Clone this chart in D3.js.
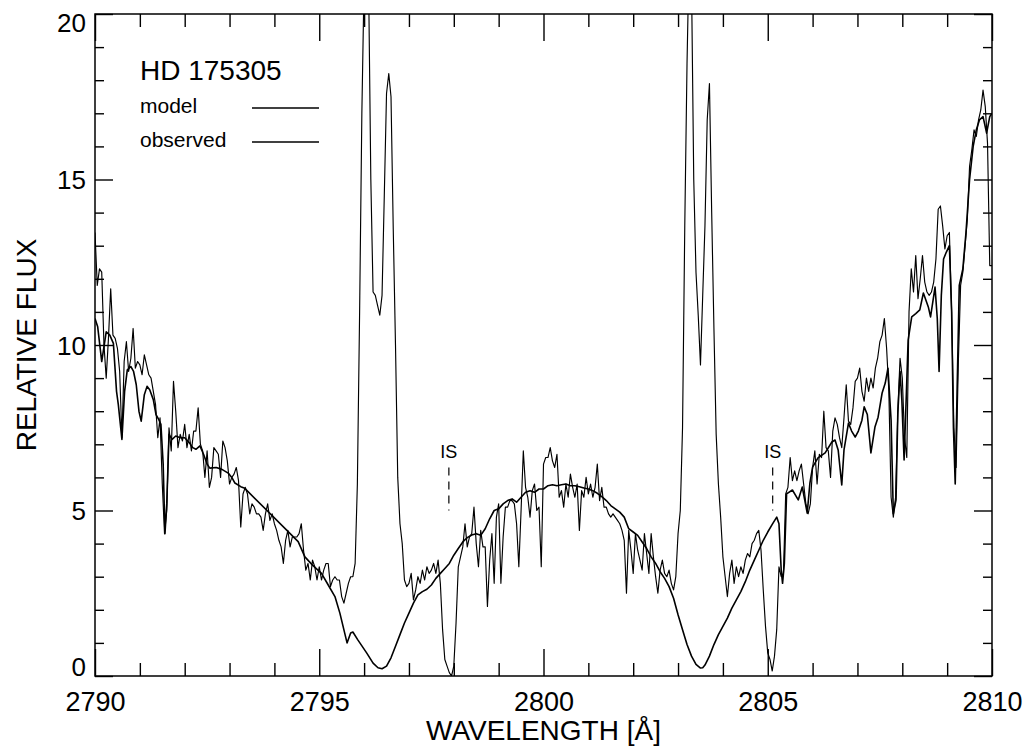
<!DOCTYPE html>
<html><head><meta charset="utf-8">
<script src="https://cdn.jsdelivr.net/npm/d3@7"></script>
<style>
body{margin:0;background:#fff}
svg{display:block}
text{font-family:"Liberation Sans",Arial,Helvetica,sans-serif;fill:#000}
</style>
</head><body>
<svg id="chart" width="1027" height="756"></svg>
<script>
// ---------------- data ----------------
const starName = "HD 175305";
const seriesNames = ["model", "observed"];
const xLabel = "WAVELENGTH [Å]";
const yLabel = "RELATIVE FLUX";
const xMajorTicks = [2790, 2795, 2800, 2805, 2810];
const yMajorTicks = [0, 5, 10, 15, 20];
const isLabel = "IS";
const isWave = [2797.89, 2805.11];
const isMarkTop = 6.3, isMarkBottom = 5.0, isLabelFlux = 6.6;

// observed spectrum, sampled every 0.05 Å from 2790.00 Å
const obsStart = 2790.0, obsStep = 0.05;
const obsFlux = [
  13.4,11.8,12.3,12.2,10.0,9.0,10.2,11.7,10.3,10.2,9.9,9.2,7.2,9.5,10.1,9.2,9.6,10.5,9.3,9.5,       // 2790
  9.4,9.1,9.7,9.4,9.1,9.0,8.6,8.2,7.2,7.8,5.8,4.3,5.0,7.5,6.8,8.9,8.0,6.9,7.3,7.1,                  // 2791
  7.6,6.9,7.3,6.8,7.4,7.4,8.1,7.0,6.8,6.0,6.8,5.7,6.0,6.9,6.8,6.7,6.0,7.1,6.9,6.5,                  // 2792
  5.8,6.0,6.1,6.3,5.9,4.5,5.5,5.7,5.5,4.9,5.2,5.1,4.9,4.9,4.8,4.4,4.9,5.2,4.7,4.9,                  // 2793
  4.6,4.4,4.1,3.9,3.4,4.1,4.4,3.9,4.2,4.2,4.2,4.3,4.6,3.8,3.2,3.4,2.9,3.5,3.3,2.9,                  // 2794
  3.3,2.9,3.2,3.4,3.4,2.7,2.9,3.0,2.9,2.9,2.4,2.2,2.5,2.8,3.0,3.0,3.4,5.8,11.0,17.0,                // 2795
  21.0,23.0,21.0,15.0,11.6,11.5,11.2,10.9,11.5,14.5,17.6,18.2,17.5,13.5,10.0,6.0,4.6,4.0,2.9,2.7,   // 2796
  2.8,3.1,2.3,2.6,3.0,2.8,3.2,2.9,3.3,3.1,3.2,3.4,3.1,3.5,2.8,1.4,0.5,0.3,0.1,0.0,                  // 2797
  0.3,1.6,3.3,3.6,3.9,4.6,3.9,4.2,4.3,5.1,4.0,3.3,4.4,3.9,3.9,2.1,3.5,4.3,2.8,4.8,                  // 2798
  5.2,2.8,4.2,5.1,5.1,5.3,5.3,5.2,4.6,3.3,5.0,6.8,5.7,5.4,4.8,5.6,5.8,5.0,5.1,3.3,                  // 2799
  6.4,6.6,6.6,6.9,6.5,6.3,6.7,5.4,5.6,5.1,5.8,5.4,6.1,5.7,5.4,5.8,4.4,5.6,5.4,6.0,                  // 2800
  5.5,5.8,5.4,5.7,6.4,5.3,5.7,5.1,5.1,4.9,4.8,4.9,4.8,4.7,4.6,4.4,4.1,2.5,4.4,3.8,                  // 2801
  3.1,4.3,3.8,3.5,3.2,4.3,3.7,3.1,4.3,3.6,3.0,2.5,3.2,3.5,3.1,3.0,3.2,2.8,2.6,3.0,                  // 2802
  4.3,5.0,7.5,13.6,18.5,22.0,21.0,15.0,12.2,10.9,9.4,11.5,13.6,16.8,17.9,14.0,10.5,7.3,5.8,4.8,     // 2803
  3.6,3.0,2.4,3.1,3.5,2.8,3.3,3.0,3.3,3.1,3.5,3.7,3.6,4.0,4.1,4.3,4.4,3.8,2.6,1.5,                  // 2804
  0.7,0.5,0.15,0.6,1.4,3.3,3.0,3.1,5.5,5.7,6.6,5.9,6.2,5.9,6.2,6.4,5.8,5.2,4.9,5.2,                 // 2805
  6.3,6.8,5.8,6.7,6.6,8.0,6.9,6.8,6.0,7.4,7.8,7.6,7.2,6.9,7.8,8.8,7.7,7.6,8.1,8.9,                  // 2806
  9.0,9.3,8.6,8.3,9.0,8.6,9.0,8.7,9.3,9.6,10.1,10.3,10.8,9.9,8.6,5.4,4.8,5.4,8.0,9.6,               // 2807
  9.0,7.2,6.6,11.0,12.3,11.6,12.7,11.4,12.0,12.7,11.9,11.6,11.5,11.6,11.9,12.6,14.1,14.2,13.6,12.9, // 2808
  13.3,13.4,11.0,7.5,6.3,9.5,11.8,12.2,13.0,13.8,15.4,15.9,16.5,16.3,16.8,17.1,17.7,17.2,16.1,12.4, // 2809
  12.4                                                                                              // 2810
];

// model spectrum (wavelength, flux)
const modelWave = [
  2790.00,2790.06,2790.15,2790.25,2790.33,2790.41,2790.48,2790.52,2790.60,2790.66,2790.72,2790.80,2790.86,2790.92,2790.98,
  2791.03,2791.10,2791.16,2791.22,2791.30,2791.36,2791.42,2791.47,2791.52,2791.56,2791.60,2791.65,2791.72,2791.80,2791.90,
  2792.00,2792.10,2792.18,2792.25,2792.34,2792.42,2792.50,2792.56,2792.70,2792.82,2792.97,2793.05,2793.12,2793.25,2793.34,
  2794.53,2794.68,2794.85,2795.05,2795.20,2795.35,2795.46,2795.62,2795.70,2795.75,2795.86,2796.06,2796.20,2796.31,2796.40,
  2796.50,2796.60,2796.70,2796.80,2796.90,2797.00,2797.10,2797.20,2797.30,2797.40,2797.50,2797.60,2797.70,2797.80,2797.90,
  2798.00,2798.10,2798.20,2798.30,2798.40,2798.50,2798.60,2798.70,2798.80,2798.90,2799.00,2799.10,2799.20,2799.30,2799.40,
  2799.50,2799.60,2799.70,2799.80,2799.90,2800.00,2800.10,2800.20,2800.30,2800.40,2800.50,2800.60,2800.70,2800.80,2800.90,
  2801.00,2801.10,2801.20,2801.30,2801.40,2801.50,2801.60,2801.70,2801.80,2801.90,2802.00,2802.10,2802.20,2802.30,2802.40,
  2802.50,2802.60,2802.70,2802.80,2802.90,2803.00,2803.10,2803.20,2803.30,2803.40,2803.50,2803.55,2803.60,2803.70,2803.80,
  2803.90,2804.00,2804.10,2804.20,2804.30,2804.40,2804.50,2804.60,2804.70,2804.80,2804.90,2805.00,2805.10,2805.20,2805.25,
  2805.30,2805.33,2805.37,2805.42,2805.55,2805.68,2805.77,2805.88,2805.94,2806.00,2806.12,2806.28,2806.43,2806.50,2806.57,
  2806.65,2806.70,2806.80,2806.87,2806.95,2807.02,2807.10,2807.15,2807.22,2807.30,2807.39,2807.46,2807.55,2807.62,2807.68,
  2807.75,2807.80,2807.86,2807.90,2807.95,2807.99,2808.04,2808.09,2808.13,2808.21,2808.30,2808.39,2808.47,2808.58,2808.63,
  2808.73,2808.78,2808.82,2808.87,2808.92,2808.98,2809.05,2809.10,2809.14,2809.18,2809.22,2809.27,2809.35,2809.42,2809.50,
  2809.58,2809.65,2809.72,2809.80,2809.88,2809.95,2810.00
];
const modelFlux = [
  10.8,10.55,9.5,10.4,10.3,10.05,8.6,8.2,7.15,8.6,9.25,9.35,9.2,8.8,8.0,
  7.7,8.5,8.75,8.65,8.35,7.9,7.75,7.6,6.4,4.3,5.2,7.3,7.15,7.25,7.2,
  7.2,7.05,6.9,6.85,6.95,6.7,6.4,6.28,6.3,6.25,6.13,6.0,5.83,5.72,5.67,
  4.06,3.6,3.35,3.1,2.75,2.4,1.9,1.0,1.3,1.33,1.09,0.69,0.39,0.25,0.22,
  0.3,0.55,0.9,1.25,1.6,1.9,2.2,2.45,2.55,2.62,2.75,2.95,3.1,3.25,3.4,
  3.65,3.85,4.05,4.18,4.26,4.3,4.25,4.45,4.75,5.0,5.05,5.2,5.3,5.35,5.25,
  5.4,5.55,5.6,5.55,5.65,5.65,5.75,5.78,5.75,5.78,5.8,5.75,5.75,5.72,5.68,
  5.65,5.6,5.52,5.42,5.3,5.15,5.05,4.95,4.8,4.45,4.35,4.25,4.05,3.85,3.6,
  3.4,3.15,2.95,2.7,2.35,1.85,1.4,0.95,0.6,0.35,0.24,0.25,0.33,0.6,0.95,
  1.25,1.5,1.75,2.05,2.3,2.55,2.85,3.2,3.5,3.8,4.1,4.35,4.58,4.8,4.6,
  3.2,2.8,3.4,5.5,5.62,5.32,5.71,4.92,5.83,6.31,6.59,6.74,7.07,7.13,6.83,
  5.77,6.83,7.64,7.4,7.22,7.4,7.73,8.13,7.9,6.74,7.52,7.82,8.55,8.85,9.3,
  7.73,4.9,5.32,7.94,9.2,8.34,6.53,8.5,10.15,10.85,10.95,11.06,11.57,11.15,10.85,
  11.75,10.8,9.2,11.5,12.6,12.8,13.0,11.0,7.5,5.8,8.5,11.8,12.3,13.4,15.0,
  16.0,16.5,16.8,16.9,16.4,16.9,17.0
];

// ---------------- drawing ----------------
const W = 1027, H = 756;
const plot = {left: 95, right: 992, top: 14, bottom: 676};
const svg = d3.select("#chart");

const x = d3.scaleLinear().domain([2790, 2810]).range([plot.left, plot.right]);
const y = d3.scaleLinear().domain([0, 20]).range([plot.bottom, plot.top]);

const obsData = obsFlux.map((f, i) => ({w: obsStart + i * obsStep, f}));
const modelData = modelWave.map((w, i) => ({w, f: modelFlux[i]}));

svg.append("defs").append("clipPath").attr("id", "clip")
  .append("rect").attr("x", plot.left).attr("y", plot.top)
  .attr("width", plot.right - plot.left).attr("height", plot.bottom - plot.top);

const line = d3.line().x(d => x(d.w)).y(d => y(d.f));
const g = svg.append("g").attr("clip-path", "url(#clip)");
g.append("path").datum(obsData).attr("d", line)
  .attr("fill", "none").attr("stroke", "#000").attr("stroke-width", 1.15).attr("stroke-linejoin", "round");
g.append("path").datum(modelData).attr("d", line)
  .attr("fill", "none").attr("stroke", "#000").attr("stroke-width", 1.6).attr("stroke-linejoin", "round");

// axes (ticks pointing inward on all four sides)
const minorX = d3.range(2790, 2810.01, 1).filter(v => !xMajorTicks.includes(v));
const minorY = d3.range(0, 20.01, 1).filter(v => !yMajorTicks.includes(v));

function styleAxis(sel) {
  sel.select(".domain").remove();
  sel.selectAll(".tick line").attr("stroke", "#000").attr("stroke-width", 1.4);
}

// bottom
svg.append("g").attr("transform", `translate(0,${plot.bottom})`)
  .call(d3.axisBottom(x).tickValues(minorX).tickSize(-13).tickFormat(""))
  .call(styleAxis);
const xb = svg.append("g").attr("transform", `translate(0,${plot.bottom})`)
  .call(d3.axisBottom(x).tickValues(xMajorTicks).tickSize(-27).tickPadding(16).tickFormat(d3.format("d")))
  .call(styleAxis);
xb.selectAll("text").attr("font-size", 27).attr("font-family", '"Liberation Sans",Arial,sans-serif').attr("fill", "#000");
// top
svg.append("g").attr("transform", `translate(0,${plot.top})`)
  .call(d3.axisTop(x).tickValues(minorX).tickSize(-13).tickFormat(""))
  .call(styleAxis);
svg.append("g").attr("transform", `translate(0,${plot.top})`)
  .call(d3.axisTop(x).tickValues(xMajorTicks).tickSize(-27).tickFormat(""))
  .call(styleAxis);
// left
svg.append("g").attr("transform", `translate(${plot.left},0)`)
  .call(d3.axisLeft(y).tickValues(minorY).tickSize(-9).tickFormat(""))
  .call(styleAxis);
const yl = svg.append("g").attr("transform", `translate(${plot.left},0)`)
  .call(d3.axisLeft(y).tickValues(yMajorTicks).tickSize(-18).tickPadding(9).tickFormat(d3.format("d")))
  .call(styleAxis);
yl.selectAll("text").attr("font-size", 26).attr("font-family", '"Liberation Sans",Arial,sans-serif').attr("fill", "#000")
  .attr("dy", d => d === 20 ? "0.66em" : d === 0 ? "-0.03em" : "0.35em");
// right
svg.append("g").attr("transform", `translate(${plot.right},0)`)
  .call(d3.axisRight(y).tickValues(minorY).tickSize(-9).tickFormat(""))
  .call(styleAxis);
svg.append("g").attr("transform", `translate(${plot.right},0)`)
  .call(d3.axisRight(y).tickValues(yMajorTicks).tickSize(-18).tickFormat(""))
  .call(styleAxis);

// frame
svg.append("rect").attr("x", plot.left).attr("y", plot.top)
  .attr("width", plot.right - plot.left).attr("height", plot.bottom - plot.top)
  .attr("fill", "none").attr("stroke", "#000").attr("stroke-width", 1.5);

// axis titles
svg.append("text").attr("x", (plot.left + plot.right) / 2).attr("y", 740)
  .attr("text-anchor", "middle").attr("font-size", 28).text(xLabel);
svg.append("text").attr("transform", `translate(36,${(plot.top + plot.bottom) / 2}) rotate(-90)`)
  .attr("text-anchor", "middle").attr("font-size", 28).text(yLabel);

// legend
svg.append("text").attr("x", 140).attr("y", 80).attr("font-size", 28).text(starName);
const legY = [108, 142];
seriesNames.forEach((name, i) => {
  svg.append("text").attr("x", 140).attr("y", legY[i] + 5).attr("font-size", 21).text(name);
  svg.append("line").attr("x1", 252).attr("x2", 319).attr("y1", legY[i]).attr("y2", legY[i])
    .attr("stroke", "#000").attr("stroke-width", 1.3);
});

// interstellar markers
isWave.forEach(w => {
  svg.append("line").attr("x1", x(w)).attr("x2", x(w)).attr("y1", y(isMarkTop)).attr("y2", y(isMarkBottom))
    .attr("stroke", "#000").attr("stroke-width", 1.2).attr("stroke-dasharray", "8,6");
  svg.append("text").attr("x", x(w)).attr("y", y(isLabelFlux)).attr("text-anchor", "middle")
    .attr("font-size", 18).text(isLabel);
});
</script>
</body></html>
